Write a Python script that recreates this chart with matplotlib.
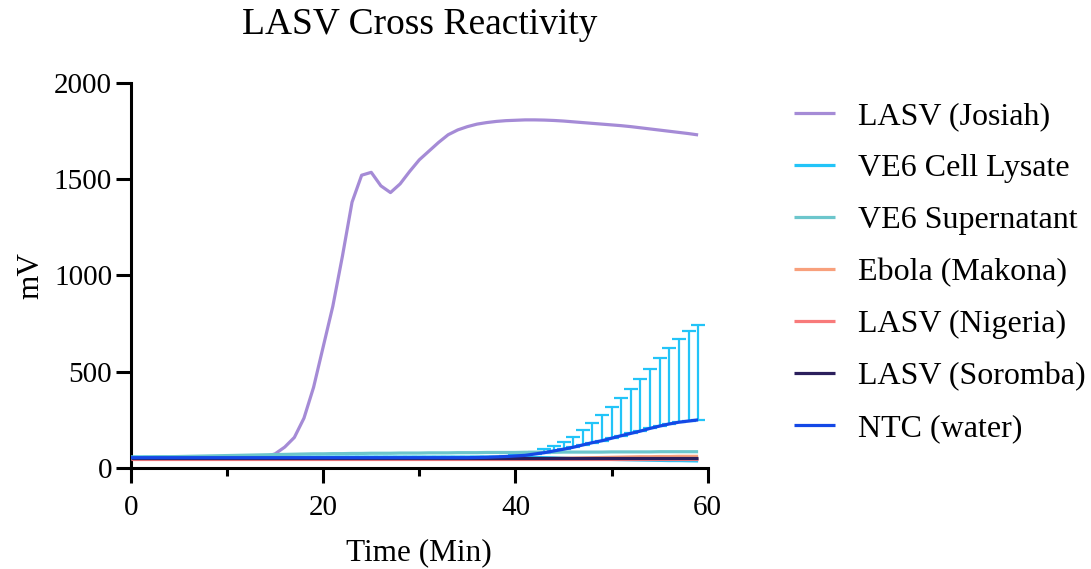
import numpy as np
import matplotlib
matplotlib.use("Agg")
import matplotlib.pyplot as plt
from matplotlib.ticker import MultipleLocator

plt.rcParams["font.family"] = ["Liberation Serif", "DejaVu Serif"]

# time points (min)
time = list(range(60))

# values, one per minute
lasv_josiah = [52, 52, 53, 53, 53, 54, 54, 54, 55, 55, 55, 56, 56, 57, 60, 75, 110, 160, 260, 420,
               630, 840, 1100, 1380, 1520, 1535, 1465, 1430, 1475, 1540, 1600, 1645, 1690, 1730, 1755,
               1772, 1785, 1793, 1799, 1803, 1805, 1807, 1807, 1806, 1804, 1801, 1797, 1793, 1789, 1785,
               1781, 1777, 1772, 1766, 1760, 1754, 1748, 1742, 1736, 1729]
ve6_lysate = [58] * 40 + [57, 57, 56, 55, 54, 52, 50, 49, 48, 47, 46, 45, 44, 43, 42, 41, 40, 40, 39, 38]
ve6_supernatant = [58, 58, 59, 60, 60, 61, 62, 63, 64, 65, 66, 67, 68, 69, 70, 71, 72, 73, 74, 75,
                   75, 76, 76, 77, 77, 78, 78, 78, 79, 79, 79, 80, 80, 80, 81, 81, 81, 82, 82, 82,
                   82, 83, 83, 83, 83, 84, 84, 84, 84, 84, 85, 85, 85, 85, 85, 86, 86, 86, 86, 86]
ebola_makona = [50] * 44 + [51, 52, 53, 54, 55, 56, 57, 58, 59, 60, 60, 61, 61, 62, 62, 62]
lasv_nigeria = [48] * 60
lasv_soromba = [52] * 60
ntc_water = [55] * 36 + [56, 57, 59, 61, 64, 67, 74, 81, 90, 99, 109, 121, 133, 143, 156, 169,
                         181, 193, 207, 219, 230, 239, 245, 251]
ntc_err = [1] * 38 + [2, 3, 5, 8, 12, 18, 26, 37, 55, 78, 100, 133, 162, 194, 232, 272, 310, 353,
                      396, 432, 469, 493]

series = [
    ("LASV (Josiah)", lasv_josiah, "#a58bd6"),
    ("VE6 Cell Lysate", ve6_lysate, "#22c4f8"),
    ("VE6 Supernatant", ve6_supernatant, "#6cc6cc"),
    ("Ebola (Makona)", ebola_makona, "#f8a07c"),
    ("LASV (Nigeria)", lasv_nigeria, "#f87a7a"),
    ("LASV (Soromba)", lasv_soromba, "#2b1f5c"),
    ("NTC (water)", ntc_water, "#1448e6"),
]

fig = plt.figure(figsize=(10.91, 5.69), dpi=100)
ax = fig.add_axes([0.120, 0.177, 0.5287, 0.6777])

# error bars (upper only) drawn under the lines
ax.errorbar(time, ntc_water, yerr=[np.zeros(len(ntc_err)), ntc_err], fmt="none",
            ecolor="#22c4f8", elinewidth=1.6, capsize=5, capthick=1.6, zorder=1)

for i, (name, vals, color) in enumerate(series):
    ax.plot(time, vals, color=color, lw=2.3, label=name, zorder=2 + i, solid_capstyle="butt")

ax.set_xlim(0, 60)
ax.set_ylim(0, 2000)
ax.xaxis.set_major_locator(MultipleLocator(20))
ax.xaxis.set_minor_locator(MultipleLocator(10))
ax.yaxis.set_major_locator(MultipleLocator(500))

for side in ["top", "right"]:
    ax.spines[side].set_visible(False)
for side in ["left", "bottom"]:
    ax.spines[side].set_linewidth(2.2)

ax.tick_params(axis="both", which="major", length=10.5, width=2.2, labelsize=21)
ax.tick_params(axis="x", which="major", pad=9)
ax.tick_params(axis="y", which="major", pad=3)
ax.tick_params(axis="x", which="minor", length=6, width=2.2)

ax.set_title("LASV Cross Reactivity", fontsize=27, pad=35)
ax.set_xlabel("Time (Min)", fontsize=22.5, labelpad=12)
ax.set_ylabel("mV", fontsize=22.5, labelpad=6)

ax.legend(loc="upper left", bbox_to_anchor=(1.149, 0.95), frameon=False, fontsize=23,
          handlelength=1.3, handletextpad=0.72, labelspacing=0.71, borderpad=0, borderaxespad=0)

fig.savefig("out.png", dpi=100)
